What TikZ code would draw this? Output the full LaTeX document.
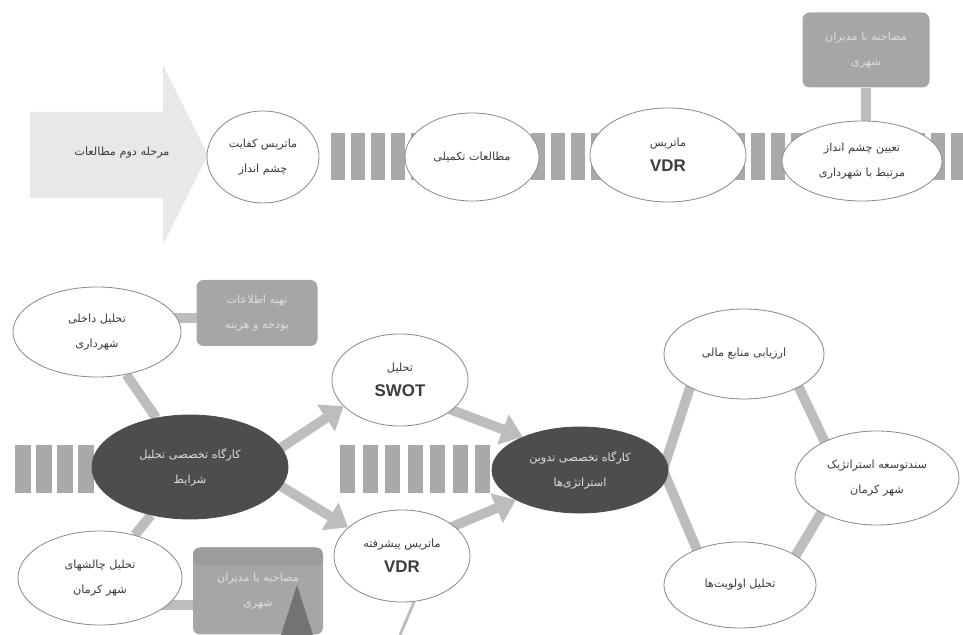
\documentclass[tikz,border=0pt]{standalone}
\usepackage{fontspec}
\usetikzlibrary{shapes.geometric,arrows.meta,backgrounds,calc}
\newfontfamily\farsi[Script=Arabic]{DejaVu Sans}
\newfontfamily\latin{Liberation Sans}
\TeXXeTstate=1
\newcommand\fatext[1]{{\farsi\beginR #1\endR}}
\newcommand\latbold[1]{{\latin\bfseries\fontsize{12}{14}\selectfont #1}}
\definecolor{inkcol}{HTML}{3C3C3C}
\definecolor{rimcol}{HTML}{8C8C8C}
\definecolor{darkcol}{HTML}{4D4D4D}
\definecolor{boxcol}{HTML}{A6A6A6}
\definecolor{palecol}{HTML}{DEDEDE}
\definecolor{linkcol}{HTML}{BDBDBD}
\definecolor{barcol}{HTML}{A9A9A9}
\definecolor{arrowcol}{HTML}{E8E8E8}
\begin{document}
\begin{tikzpicture}[x=0.025cm, y=-0.025cm,
  bubble/.style 2 args={ellipse, draw=rimcol, line width=0.6pt, fill=white, text=inkcol,
    minimum width=#1*0.05cm, minimum height=#2*0.05cm, inner sep=0pt, align=center,
    font=\fontsize{8}{18}\selectfont},
  dark/.style={fill=darkcol, draw=darkcol, text=palecol},
  infobox/.style 2 args={rectangle, rounded corners=5pt, fill=boxcol, text=palecol,
    minimum width=#1*0.025cm, minimum height=#2*0.025cm, inner sep=0pt, align=center,
    font=\fontsize{8}{18}\selectfont},
  link/.style={draw=linkcol, line width=7pt},
  flow/.style={draw=linkcol, line width=7pt, shorten <=-6pt, -{Triangle[length=15pt,width=22pt]}},
  bar/.style={fill=barcol}]
\useasboundingbox (0,0) rectangle (963,635);
% big arrow of the second phase
\fill[arrowcol] (30,112) -- (163,112) -- (163,65) -- (208,155) -- (163,245) -- (163,198) -- (30,198) -- cycle;
\node[text=inkcol, font=\fontsize{8}{18}\selectfont] (phase) at (122,153) {\fatext{مرحله دوم مطالعات}};
% striped bands
\foreach \x in {331,351,...,951} \fill[bar] (\x,133) rectangle ++(14,47);
\foreach \x in {15,36,57,78} \fill[bar] (\x,445) rectangle ++(16,48);
\foreach \i in {0,...,6} \fill[bar] (340+22.5*\i,445) rectangle ++(15,48);
% upper row
\node[bubble={56}{46}] (vision) at (263,157) {\fatext{ماتریس کفایت}\\\fatext{چشم انداز}};
\node[bubble={67}{44}] (extra) at (472,157) {\fatext{مطالعات تکمیلی}};
\node[bubble={78}{47}] (vdr) at (668,155) {\fatext{ماتریس}\\\latbold{VDR}};
\node[bubble={80}{40}] (goal) at (862,161) {\fatext{تعیین چشم انداز}\\\fatext{مرتبط با شهرداری}};
\node[infobox={127}{75}] (talk) at (866,50) {\fatext{مصاحبه با مدیران}\\\fatext{شهری}};
% lower part
\node[bubble={84}{45}] (inner) at (97,332) {\fatext{تحلیل داخلی}\\\fatext{شهرداری}};
\node[infobox={121}{66}] (budget) at (257,313) {\fatext{تهیه اطلاعات}\\\fatext{بودجه و هزینه}};
\node[bubble={98}{52}, dark] (shop) at (190,467) {\fatext{کارگاه تخصصی تحلیل}\\\fatext{شرایط}};
\node[bubble={68}{46}] (swot) at (400,380) {\fatext{تحلیل}\\\latbold{SWOT}};
\node[bubble={68}{46}] (vdrplus) at (402,556) {\fatext{ماتریس پیشرفته}\\\latbold{VDR}};
\node[bubble={88}{43}, dark] (plan) at (580,470) {\fatext{کارگاه تخصصی تدوین}\\\fatext{استراتژی‌ها}};
\node[bubble={82}{47}] (risk) at (100,578) {\fatext{تحلیل چالشهای}\\\fatext{شهر کرمان}};
\node[infobox={130}{87}, path picture={\fill[black!39] (path picture bounding box.north west)
  rectangle ([yshift=-13pt]path picture bounding box.north east);}] (talk2) at (258,591)
  {\fatext{مصاحبه با مدیران}\\\fatext{شهری}};
\fill[black!55] (297,585) -- (313,635) -- (281,635) -- cycle;
\node[bubble={80}{45}] (money) at (744,354) {\fatext{ارزیابی منابع مالی}};
\node[bubble={82}{47}] (doc) at (877,478) {\fatext{سندتوسعه استراتژیک}\\\fatext{شهر کرمان}};
\node[bubble={76}{43}] (rank) at (740,585) {\fatext{تحلیل اولویت‌ها}};
\coordinate (hexL) at (663,470);
\coordinate (tail) at (400,635);
\begin{scope}[on background layer]
\draw[link] (talk) -- (talk |- goal);
\draw[link] (inner) -- (shop);
\draw[link] (shop) -- (risk);
\draw[link] (inner.center |- inner.10) -- (budget.center |- inner.10);
\draw[link] (risk.center |- risk.-22) -- (talk2.center |- risk.-22);
\draw[link] ($(money.center)+(-43,0)$) -- (hexL) -- ($(rank.center)+(-28,0)$);
\draw[link] ($(money.center)+(39,0)$) -- ($(doc.center)+(-35,0)$) -- ($(rank.center)+(38,0)$);
\draw[linkcol, line width=2pt] (vdrplus.-75) -- (tail);
\draw[flow] (shop.12) -- (swot.205);
\draw[flow] (shop.-12) -- (vdrplus.152);
\draw[flow] (swot.-30) -- (plan.150);
\draw[flow] (vdrplus.30) -- (plan.205);
\end{scope}
\end{tikzpicture}
\end{document}
